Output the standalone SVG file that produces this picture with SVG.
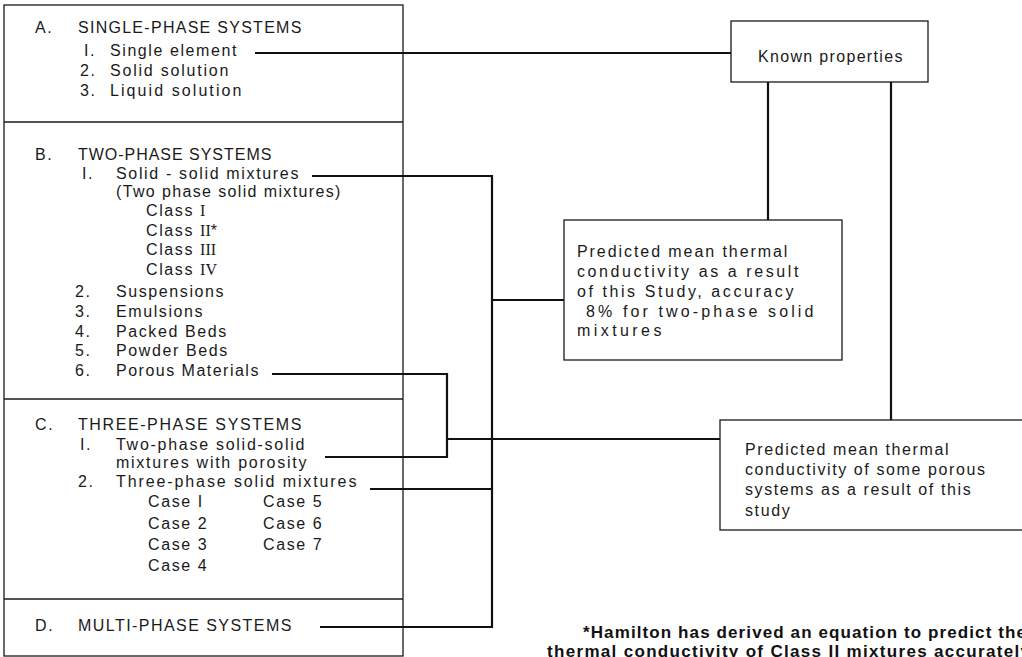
<svg xmlns="http://www.w3.org/2000/svg" width="1022" height="657" viewBox="0 0 1022 657">
<style>
.bg{fill:#ffffff}
.box{fill:none;stroke:#1a1a1a;stroke-width:1.3}
.con{fill:none;stroke:#111111;stroke-width:2.2}
text{font-family:"Liberation Sans",Arial,sans-serif;font-size:16px;fill:#1a1a1a;letter-spacing:1.6px}
.rn{font-family:"Liberation Serif","Times New Roman",serif;letter-spacing:0px}
.fn{font-size:17px;font-weight:bold;fill:#111111;letter-spacing:0px}
</style>
<rect class="bg" x="0" y="0" width="1022" height="657"/>

<g id="classification">
<rect class="box" x="4" y="5" width="399" height="651"/>
<line class="box" x1="4" y1="122" x2="403" y2="122"/>
<line class="box" x1="4" y1="399" x2="403" y2="399"/>
<line class="box" x1="4" y1="599" x2="403" y2="599"/>
</g>

<g id="sectionA">
<text x="35" y="33">A.</text>
<text x="78" y="33" textLength="225" lengthAdjust="spacing">SINGLE-PHASE SYSTEMS</text>
<text x="84" y="56">I.</text>
<text x="110" y="56" textLength="128" lengthAdjust="spacing">Single element</text>
<text x="80" y="76">2.</text>
<text x="110" y="76" textLength="120" lengthAdjust="spacing">Solid solution</text>
<text x="80" y="96">3.</text>
<text x="110" y="96" textLength="133" lengthAdjust="spacing">Liquid solution</text>
</g>

<g id="sectionB">
<text x="35" y="160">B.</text>
<text x="78" y="160" textLength="195" lengthAdjust="spacing">TWO-PHASE SYSTEMS</text>
<text x="82" y="179">I.</text>
<text x="116" y="179" textLength="184" lengthAdjust="spacing">Solid - solid mixtures</text>
<text x="116" y="197" textLength="226" lengthAdjust="spacing">(Two phase solid mixtures)</text>
<text x="146" y="216">Class <tspan class="rn">I</tspan></text>
<text x="146" y="236">Class <tspan class="rn">II</tspan>*</text>
<text x="146" y="255">Class <tspan class="rn">III</tspan></text>
<text x="146" y="275">Class <tspan class="rn">IV</tspan></text>
<text x="75" y="297">2.</text>
<text x="116" y="297">Suspensions</text>
<text x="75" y="317">3.</text>
<text x="116" y="317">Emulsions</text>
<text x="75" y="337">4.</text>
<text x="116" y="337">Packed Beds</text>
<text x="75" y="356">5.</text>
<text x="116" y="356">Powder Beds</text>
<text x="75" y="376">6.</text>
<text x="116" y="376" textLength="144" lengthAdjust="spacing">Porous Materials</text>
</g>

<g id="sectionC">
<text x="35" y="430">C.</text>
<text x="78" y="430" textLength="225" lengthAdjust="spacing">THREE-PHASE SYSTEMS</text>
<text x="80" y="450">I.</text>
<text x="116" y="450" textLength="190" lengthAdjust="spacing">Two-phase solid-solid</text>
<text x="116" y="468" textLength="192" lengthAdjust="spacing">mixtures with porosity</text>
<text x="78" y="487">2.</text>
<text x="116" y="487" textLength="242" lengthAdjust="spacing">Three-phase solid mixtures</text>
<text x="148" y="507">Case I</text>
<text x="263" y="507">Case 5</text>
<text x="148" y="529">Case 2</text>
<text x="263" y="529">Case 6</text>
<text x="148" y="550">Case 3</text>
<text x="263" y="550">Case 7</text>
<text x="148" y="571">Case 4</text>
</g>

<g id="sectionD">
<text x="35" y="631">D.</text>
<text x="78" y="631" textLength="215" lengthAdjust="spacing">MULTI-PHASE SYSTEMS</text>
</g>

<g id="known">
<rect class="box" x="731" y="21" width="197" height="61"/>
<text x="758" y="62" textLength="146" lengthAdjust="spacing">Known properties</text>
</g>

<g id="predicted-two-phase">
<rect class="box" x="564" y="220" width="278" height="140"/>
<text x="577" y="257" textLength="212" lengthAdjust="spacing">Predicted mean thermal</text>
<text x="577" y="277" textLength="223" lengthAdjust="spacing">conductivity as a result</text>
<text x="577" y="297" textLength="218" lengthAdjust="spacing">of this Study, accuracy</text>
<text x="586" y="317" textLength="229" lengthAdjust="spacing">8% for two-phase solid</text>
<text x="577" y="336" textLength="86" lengthAdjust="spacing">mixtures</text>
</g>

<g id="predicted-porous">
<rect class="box" x="720" y="420" width="320" height="110"/>
<text x="745" y="455" letter-spacing="1.4">Predicted mean thermal</text>
<text x="745" y="475" letter-spacing="1.4">conductivity of some porous</text>
<text x="745" y="495" letter-spacing="1.4">systems as a result of this</text>
<text x="745" y="516" letter-spacing="1.4">study</text>
</g>

<g id="connectors">
<line class="con" x1="255" y1="53" x2="731" y2="53"/>
<line class="con" x1="768" y1="82" x2="768" y2="220"/>
<line class="con" x1="891" y1="82" x2="891" y2="420"/>
<path class="con" d="M312 176 H492 V627 H320"/>
<line class="con" x1="492" y1="300" x2="564" y2="300"/>
<path class="con" d="M272 374 H447 V457 H325"/>
<line class="con" x1="447" y1="439" x2="720" y2="439"/>
<line class="con" x1="370" y1="489" x2="492" y2="489"/>
</g>

<g id="footnote">
<text class="fn" x="583" y="638" textLength="443" lengthAdjust="spacing">*Hamilton has derived an equation to predict the</text>
<text class="fn" x="547" y="657" textLength="483" lengthAdjust="spacing">thermal conductivity of Class II mixtures accurately</text>
</g>
</svg>
